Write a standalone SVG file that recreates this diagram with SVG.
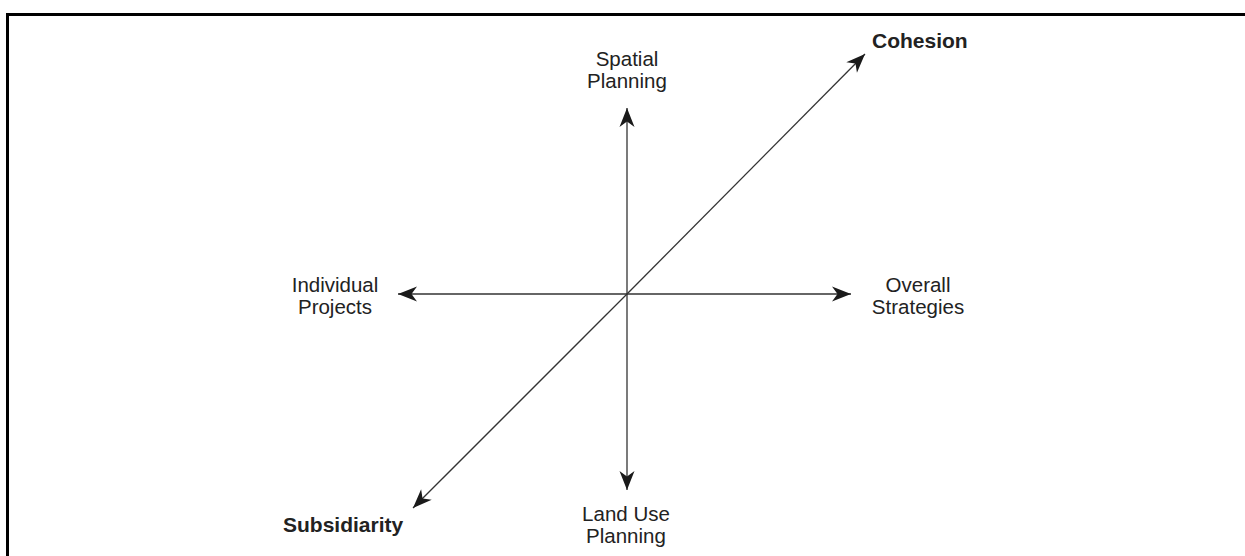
<svg xmlns="http://www.w3.org/2000/svg" width="1245" height="556" viewBox="0 0 1245 556">
<style>
.t{font-family:"Liberation Sans",Arial,sans-serif;font-size:20.5px;fill:#222;text-anchor:middle}
.b{font-weight:bold;text-anchor:start;font-size:21px}
.ax{stroke:#333;stroke-width:1.3;fill:none}
</style>
<defs>
<marker id="ah" markerUnits="userSpaceOnUse" markerWidth="24" markerHeight="20" viewBox="-20 -10 24 20" refX="0" refY="0" orient="auto">
<path d="M0,0 L-19,-7.5 L-13.5,0 L-19,7.5 Z" fill="#1a1a1a"/>
</marker>
</defs>
<rect width="1245" height="556" fill="#fff"/>
<g id="frame">
<path d="M7.5,556 V14.5 H1245" stroke="#000" stroke-width="3" fill="none"/>
</g>
<g id="connectors">
<line class="ax" x1="627" y1="294" x2="627" y2="108" marker-end="url(#ah)"/>
<line class="ax" x1="627" y1="294" x2="627" y2="490" marker-end="url(#ah)"/>
<line class="ax" x1="627" y1="294" x2="398" y2="294" marker-end="url(#ah)"/>
<line class="ax" x1="627" y1="294" x2="851" y2="294" marker-end="url(#ah)"/>
<line class="ax" x1="627" y1="294" x2="865" y2="54" marker-end="url(#ah)"/>
<line class="ax" x1="627" y1="294" x2="413" y2="508" marker-end="url(#ah)"/>
</g>
<g id="spatial-planning"><text class="t" x="627" y="66">Spatial</text><text class="t" x="627" y="87.5">Planning</text></g>
<g id="cohesion"><text class="t b" x="872" y="48">Cohesion</text></g>
<g id="individual-projects"><text class="t" x="335" y="292">Individual</text><text class="t" x="335" y="313.5">Projects</text></g>
<g id="overall-strategies"><text class="t" x="918" y="292">Overall</text><text class="t" x="918" y="313.5">Strategies</text></g>
<g id="subsidiarity"><text class="t b" x="283" y="532">Subsidiarity</text></g>
<g id="land-use-planning"><text class="t" x="626" y="521">Land Use</text><text class="t" x="626" y="542.5">Planning</text></g>
</svg>
